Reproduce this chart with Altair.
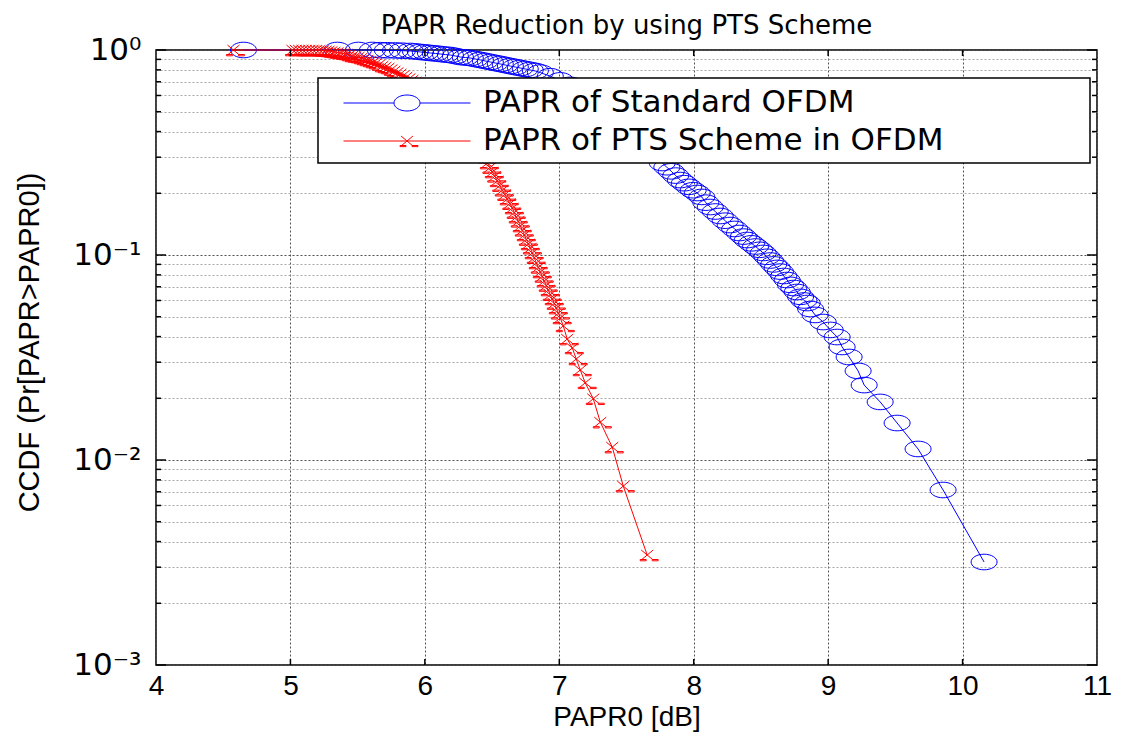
import altair as alt
import pandas as pd

title_text = "PAPR Reduction by using PTS Scheme"
x_title = "PAPR0 [dB]"
y_title = "CCDF (Pr[PAPR>PAPR0])"
series_names = ["PAPR of Standard OFDM", "PAPR of PTS Scheme in OFDM"]
series_colors = ["#0000FF", "#FF0000"]

# Standard OFDM (blue circles)
std_papr = [4.651, 5.349, 5.506, 5.610, 5.669, 5.721, 5.781, 5.833, 5.892, 5.930,
            5.967, 6.004, 6.041, 6.078, 6.115, 6.153, 6.190, 6.227, 6.264, 6.301,
            6.338, 6.375, 6.413, 6.450, 6.487, 6.524, 6.561, 6.598, 6.636, 6.673,
            6.710, 6.747, 6.784, 6.822, 6.859, 6.933, 7.007, 7.082, 7.156, 7.230,
            7.305, 7.380, 7.454, 7.528, 7.602, 7.677, 7.766, 7.800, 7.833, 7.866,
            7.900, 7.930, 7.963, 7.996, 8.026, 8.060, 8.090, 8.123, 8.160, 8.197,
            8.234, 8.271, 8.305, 8.340, 8.370, 8.398, 8.430, 8.460, 8.490, 8.517,
            8.545, 8.570, 8.595, 8.621, 8.645, 8.670, 8.695, 8.720, 8.745, 8.770,
            8.795, 8.820, 8.844, 8.870, 8.903, 8.963, 9.015, 9.067, 9.104, 9.156,
            9.223, 9.268, 9.387, 9.513, 9.669, 9.855, 10.160]
std_ccdf = [1.000, 1.000, 1.000, 1.000, 0.998, 0.997, 0.995, 0.992, 0.989, 0.984,
            0.978, 0.973, 0.967, 0.962, 0.956, 0.950, 0.945, 0.935, 0.924, 0.919,
            0.914, 0.904, 0.894, 0.884, 0.874, 0.864, 0.855, 0.845, 0.835, 0.826,
            0.817, 0.808, 0.799, 0.790, 0.776, 0.745, 0.711, 0.676, 0.634, 0.592,
            0.548, 0.501, 0.453, 0.404, 0.355, 0.318, 0.281, 0.268, 0.256, 0.244,
            0.232, 0.224, 0.215, 0.207, 0.2006, 0.192, 0.180, 0.1714, 0.163, 0.155,
            0.147, 0.140, 0.134, 0.128, 0.123, 0.1183, 0.114, 0.110, 0.106, 0.1023,
            0.098, 0.094, 0.090, 0.0865, 0.083, 0.079, 0.0755, 0.0715, 0.0690, 0.0660,
            0.0625, 0.0600, 0.0583, 0.0545, 0.0510, 0.0471, 0.0431, 0.0398, 0.0356, 0.0318,
            0.0272, 0.0232, 0.0192, 0.01515, 0.01132, 0.00714, 0.00318]

# PTS scheme (red crosses)
pts_papr = [4.576, 5.015, 5.040, 5.065, 5.090, 5.115, 5.140, 5.165, 5.190, 5.215,
            5.240, 5.262, 5.283, 5.305, 5.327, 5.350, 5.372, 5.394, 5.416, 5.439,
            5.461, 5.483, 5.506, 5.528, 5.550, 5.572, 5.595, 5.617, 5.639, 5.661,
            5.684, 5.706, 5.729, 5.751, 5.773, 5.796, 5.818, 5.840, 5.862, 5.885,
            5.907, 5.930, 5.952, 5.974, 5.996, 6.018, 6.041, 6.063, 6.085, 6.107,
            6.130, 6.152, 6.175, 6.197, 6.219, 6.241, 6.264, 6.286, 6.309, 6.331,
            6.353, 6.375, 6.398, 6.416, 6.435, 6.450, 6.465, 6.484, 6.502, 6.520,
            6.539, 6.557, 6.576, 6.595, 6.613, 6.632, 6.651, 6.665, 6.680, 6.695,
            6.710, 6.725, 6.740, 6.755, 6.770, 6.785, 6.799, 6.814, 6.829, 6.844,
            6.859, 6.873, 6.888, 6.903, 6.918, 6.933, 6.948, 6.963, 6.978, 6.993,
            7.007, 7.030, 7.059, 7.097, 7.126, 7.156, 7.193, 7.253, 7.305, 7.394,
            7.476, 7.654]
pts_ccdf = [1.0, 1.0, 1.0, 1.0, 1.0, 1.0, 1.0, 1.0, 1.0, 0.998,
            0.995, 0.992, 0.989, 0.984, 0.978, 0.972, 0.967, 0.961, 0.956, 0.945,
            0.935, 0.930, 0.924, 0.914, 0.904, 0.894, 0.884, 0.874, 0.864, 0.850,
            0.835, 0.826, 0.817, 0.803, 0.790, 0.777, 0.764, 0.751, 0.738, 0.726,
            0.714, 0.698, 0.682, 0.667, 0.653, 0.638, 0.624, 0.610, 0.596, 0.580,
            0.564, 0.548, 0.533, 0.515, 0.498, 0.482, 0.466, 0.448, 0.431, 0.412,
            0.394, 0.375, 0.356, 0.337, 0.318, 0.300, 0.281, 0.267, 0.254, 0.242,
            0.230, 0.218, 0.207, 0.197, 0.1875, 0.178, 0.1695, 0.161, 0.153, 0.146,
            0.1385, 0.132, 0.1252, 0.119, 0.1132, 0.108, 0.1023, 0.097, 0.0914, 0.087,
            0.0826, 0.0786, 0.0746, 0.071, 0.0675, 0.064, 0.0610, 0.058, 0.0551, 0.052,
            0.0493, 0.0451, 0.0389, 0.0352, 0.0311, 0.0275, 0.0238, 0.0199, 0.0153, 0.01156,
            0.00746, 0.00344]

x_ticks = [4, 5, 6, 7, 8, 9, 10, 11]
x_inner_ticks = [5, 6, 7, 8, 9, 10]
y_decades = [0.001, 0.01, 0.1, 1.0]
y_minor = [m * d for d in [0.001, 0.01, 0.1] for m in range(2, 10)]
y_all = sorted(y_decades + y_minor)

W, H = 941, 615

std_df = pd.DataFrame({"papr": std_papr, "ccdf": std_ccdf, "series": series_names[0]})
pts_df = pd.DataFrame({"papr": pts_papr, "ccdf": pts_ccdf, "series": series_names[1]})
xt_df = pd.DataFrame({"papr": x_inner_ticks})
ymaj_df = pd.DataFrame({"ccdf": y_decades})
ymin_df = pd.DataFrame({"ccdf": y_minor})
box_df = pd.DataFrame({"k": [0]})

# marker shapes (custom symbol paths)
ellipse_path = ("M 1 0 C 1 0.331 0.552 0.6 0 0.6 C -0.552 0.6 -1 0.331 -1 0 "
                "C -1 -0.331 -0.552 -0.6 0 -0.6 C 0.552 -0.6 1 -0.331 1 0 Z")
cross_path = ("M -0.6 -0.5 L 0.6 0.5 M -0.6 0.5 L 0.6 -0.5 "
              "M -0.7 0.45 L -0.1 0.45 L -0.1 0.58 L -0.7 0.58 Z "
              "M 0.5 0.45 L 1.1 0.45 L 1.1 0.58 L 0.5 0.58 Z")
leg_blue = ("M -1 0 L -0.205 0 M 0.205 0 L 1 0 "
            "M 0.205 0 C 0.205 0.070 0.113 0.126 0 0.126 C -0.113 0.126 -0.205 0.070 -0.205 0 "
            "C -0.205 -0.070 -0.113 -0.126 0 -0.126 C 0.113 -0.126 0.205 -0.070 0.205 0 Z")
leg_red = ("M -1 0 L 1 0 M -0.094 -0.079 L 0.094 0.079 M -0.094 0.079 L 0.094 -0.079 "
           "M -0.110 0.071 L -0.016 0.071 L -0.016 0.089 L -0.110 0.089 Z "
           "M 0.079 0.071 L 0.173 0.071 L 0.173 0.089 L 0.079 0.089 Z")

decade_test = "abs(log(datum.value)/LN10 - round(log(datum.value)/LN10)) < 0.01"
label_expr = (
    f"({decade_test}) ? ("
    "round(log(datum.value)/LN10) == 0 ? '10\u2070' : "
    "round(log(datum.value)/LN10) == -1 ? '10\u207b\u00b9' : "
    "round(log(datum.value)/LN10) == -2 ? '10\u207b\u00b2' : '10\u207b\u00b3') : ''"
)

X = alt.X("papr:Q", title=x_title,
          scale=alt.Scale(domain=[4, 11], nice=False, zero=False),
          axis=alt.Axis(values=x_ticks, format="d", ticks=False, domain=False,
                        labelFlush=False, labelFontSize=28, labelPadding=7,
                        labelFont="Liberation Sans",
                        titleFontSize=28, titleFont="Liberation Sans",
                        titleFontWeight="normal", titleBaseline="alphabetic",
                        titleY=60,
                        grid=True, gridColor="#505050", gridDash=[2, 2], gridWidth=1))
Y = alt.Y("ccdf:Q", title=y_title,
          scale=alt.Scale(type="log", domain=[0.001, 1], nice=False),
          axis=alt.Axis(values=y_all, labelExpr=label_expr, ticks=False, domain=False,
                        labelFlush=False, labelFontSize=31, labelPadding=15,
                        labelFont="DejaVu Sans",
                        titleFontSize=29, titleFont="Liberation Sans",
                        titleFontWeight="normal", titleBaseline="middle",
                        titleX=-127, titleY=292,
                        grid=True,
                        gridColor={"condition": {"test": decade_test, "value": "#505050"},
                                   "value": "#a8a8a8"},
                        gridDash=[2, 2], gridWidth=1))

std_line = alt.Chart(std_df).mark_line(color=series_colors[0], strokeWidth=1).encode(x=X, y=Y)
std_pts = alt.Chart(std_df).mark_point(shape=ellipse_path, size=676, filled=False,
                                       color=series_colors[0], strokeWidth=1,
                                       opacity=1).encode(x=X, y=Y)
pts_line = alt.Chart(pts_df).mark_line(color=series_colors[1], strokeWidth=1).encode(x=X, y=Y)
pts_pts = alt.Chart(pts_df).mark_point(shape=cross_path, size=400, filled=False,
                                       color=series_colors[1], strokeWidth=1,
                                       opacity=1).encode(x=X, y=Y)

# inside tick marks (MATLAB style)
tick_color = "black"
xt_bot = alt.Chart(xt_df).mark_rule(color=tick_color, strokeWidth=1.5).encode(
    x=X, y=alt.value(H), y2=alt.value(H - 6))
xt_top = alt.Chart(xt_df).mark_rule(color=tick_color, strokeWidth=1.5).encode(
    x=X, y=alt.value(0), y2=alt.value(6))
ymaj_l = alt.Chart(ymaj_df).mark_rule(color=tick_color, strokeWidth=1.5).encode(
    y=Y, x=alt.value(0), x2=alt.value(10))
ymaj_r = alt.Chart(ymaj_df).mark_rule(color=tick_color, strokeWidth=1.5).encode(
    y=Y, x=alt.value(W), x2=alt.value(W - 10))
ymin_l = alt.Chart(ymin_df).mark_rule(color=tick_color, strokeWidth=1.5).encode(
    y=Y, x=alt.value(0), x2=alt.value(5))
ymin_r = alt.Chart(ymin_df).mark_rule(color=tick_color, strokeWidth=1.5).encode(
    y=Y, x=alt.value(W), x2=alt.value(W - 5))

# legend frame
legend_box = alt.Chart(box_df).mark_rect(fill="white", stroke="black", strokeWidth=1.5).encode(
    x=alt.value(162), x2=alt.value(934), y=alt.value(28), y2=alt.value(113))

legend_def = alt.Legend(title=None, orient="none", legendX=187, legendY=38,
                        symbolSize=16129, symbolStrokeWidth=1, clipHeight=30,
                        labelFontSize=31, labelFont="DejaVu Sans", labelColor="black",
                        labelOffset=12, labelLimit=1200, rowPadding=7, padding=0)
legend_layer = alt.Chart(std_df).transform_filter("false").mark_point(
    filled=False, opacity=1, strokeWidth=1).encode(
    x=X, y=Y,
    color=alt.Color("series:N", scale=alt.Scale(domain=series_names, range=series_colors),
                    legend=legend_def),
    shape=alt.Shape("series:N", scale=alt.Scale(domain=series_names, range=[leg_blue, leg_red]),
                    legend=legend_def))

chart = alt.layer(
    std_line, std_pts, pts_line, pts_pts,
    xt_bot, xt_top, ymaj_l, ymaj_r, ymin_l, ymin_r,
    legend_box, legend_layer
).properties(
    width=W, height=H,
    title=alt.TitleParams(title_text, fontSize=26, font="DejaVu Sans", fontWeight="normal",
                          anchor="middle", offset=16, dy=21, color="black"),
    autosize=alt.AutoSizeParams(type="none"),
    padding={"left": 148, "top": 42, "right": 15, "bottom": 67},
    background="white"
).configure_view(
    stroke="black", strokeWidth=1.5
).configure_axis(
    labelColor="black", titleColor="black"
)

chart.save("out.html", embed_options={"renderer": "svg", "actions": False})
